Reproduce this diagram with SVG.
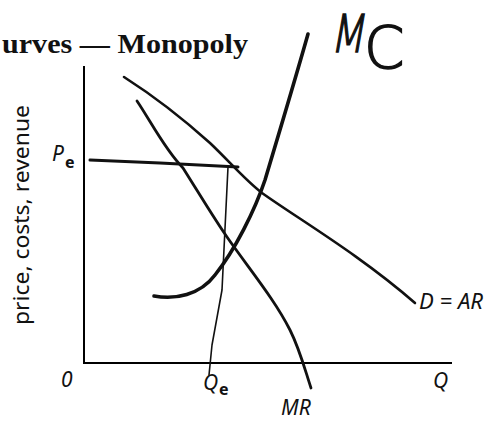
<svg xmlns="http://www.w3.org/2000/svg" width="487" height="427" viewBox="0 0 487 427">
<style>
.ax{fill:none;stroke:#000;stroke-width:2}
.c{fill:none;stroke:#111;stroke-linecap:round;stroke-linejoin:round}
.lbl{font-family:"Noto Sans","Open Sans",sans-serif;font-size:21px;fill:#111}
.it{font-style:italic}
.sub{font-family:"Noto Sans","Open Sans",sans-serif;font-size:16px;font-weight:bold;fill:#111}
.hand{font-family:"DejaVu Sans",sans-serif;font-weight:200;fill:#111;stroke:#111;stroke-width:1.5}
</style>
<rect width="487" height="427" fill="#fff"/>
<text x="2" y="53" font-family="Liberation Serif,serif" font-weight="bold" font-size="27" fill="#111" textLength="246" lengthAdjust="spacingAndGlyphs">urves — Monopoly</text>
<g id="mc-label">
<text class="hand" x="330" y="52" font-size="52" transform="skewX(-10)" transform-origin="350 52" textLength="34" lengthAdjust="spacingAndGlyphs">M</text>
<text class="hand" x="364" y="68" font-size="58">C</text>
</g>
<g id="axes">
<path class="ax" d="M84,66 L84,363 L452,363"/>
<text class="lbl" font-size="20" transform="translate(29,215) rotate(-90)" text-anchor="middle" textLength="220" lengthAdjust="spacingAndGlyphs">price, costs, revenue</text>
<text class="lbl it" x="61" y="387">0</text>
<text class="lbl it" x="433" y="388">Q</text>
</g>
<g id="connectors">
<path id="pe-line" class="c" stroke-width="3" d="M90,160 L160,163 L238,167"/>
<path id="qe-line" class="c" stroke-width="1.6" d="M228,167 L222,290 L212,345 L209,375"/>
<path id="demand" class="c" stroke-width="2.6" d="M124,77 C160,100 190,125 210,143 C230,162 245,180 262,193 C300,220 360,255 415,303"/>
<path id="mr" class="c" stroke-width="2.8" d="M137,101 C150,120 165,150 183,168 C200,195 215,220 227,237 C250,270 275,300 290,330 C300,350 305,370 311,388"/>
<path id="mc" class="c" stroke-width="3.6" d="M154,296 C175,300 200,295 215,275 C235,250 255,210 265,180 C280,130 295,80 308,34"/>
</g>
<g id="pe"><text class="lbl it" x="52" y="161">P</text><text class="sub" x="65" y="168">e</text></g>
<g id="qe"><text class="lbl it" x="203" y="390">Q</text><text class="sub" x="219" y="395">e</text></g>
<g id="dar"><text class="lbl it" x="419" y="309" textLength="64" lengthAdjust="spacingAndGlyphs">D = AR</text></g>
<g id="mrl"><text class="lbl it" x="281" y="415">MR</text></g>
</svg>
